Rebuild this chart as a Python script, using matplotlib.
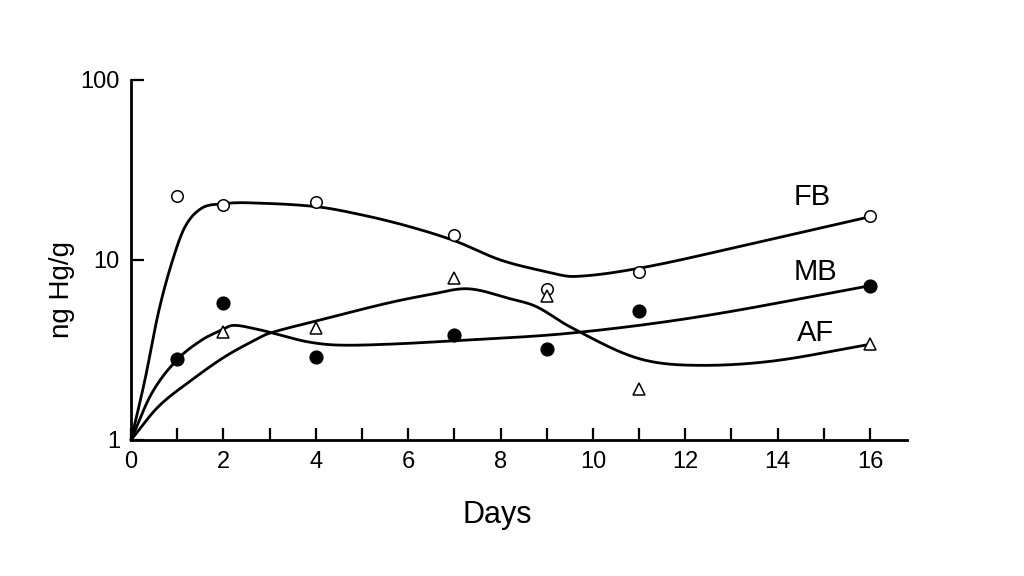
import numpy as np
import matplotlib
matplotlib.use("Agg")
import matplotlib.pyplot as plt
from matplotlib.ticker import FixedLocator, NullFormatter, FixedFormatter

plt.rcParams['font.family'] = ['Liberation Sans', 'DejaVu Sans']

# Measured points
days_FB = [1, 2, 4, 7, 9, 11, 16]
FB = [22.7, 20.2, 21.0, 13.8, 6.9, 8.6, 17.5]
days_MB = [1, 2, 4, 7, 9, 11, 16]
MB = [2.82, 5.77, 2.89, 3.83, 3.2, 5.2, 7.2]
days_AF = [2, 4, 7, 9, 11, 16]
AF = [4.0, 4.2, 7.9, 6.3, 1.92, 3.4]

# Hand-drawn fitted curves (knots)
FB_curve_x = [0, 0.3, 0.59, 0.88, 1.17, 1.53, 1.96, 2.5, 4, 5, 6, 7, 8, 9, 9.6, 11, 13, 16]
FB_curve_y = [1, 2.15, 5.06, 9.6, 15.3, 19.4, 20.5, 20.8, 19.8, 17.8, 15.4, 12.8, 10, 8.6, 8.1, 9.0, 11.6, 17.4]
MB_curve_x = [0, 0.45, 0.99, 1.53, 1.96, 2.2, 2.65, 3.08, 3.8, 4.45, 5.5, 7, 9.5, 12.3, 16]
MB_curve_y = [1, 1.82, 2.78, 3.59, 4.08, 4.33, 4.17, 3.92, 3.52, 3.37, 3.4, 3.56, 3.92, 4.84, 7.2]
AF_curve_x = [0, 0.59, 1.31, 2.03, 2.68, 3.0, 4.09, 5.54, 6.5, 7.3, 8.2, 8.78, 9.5, 10.87, 11.96, 13.76, 16]
AF_curve_y = [1, 1.53, 2.15, 2.9, 3.59, 3.92, 4.64, 5.75, 6.45, 6.92, 6.1, 5.5, 4.26, 2.9, 2.61, 2.72, 3.4]

x_ticks_labeled = [0, 2, 4, 6, 8, 10, 12, 14, 16]
y_ticks = [1, 10, 100]
y_tick_labels = ['1', '10', '100']


def hermite(x, y, xs):
    x = np.asarray(x, float)
    y = np.asarray(y, float)
    n = len(x)
    h = np.diff(x)
    m = np.zeros(n)
    m[1:-1] = (y[2:] - y[:-2]) / (x[2:] - x[:-2])
    m[0] = (y[1] - y[0]) / h[0]
    m[-1] = (y[-1] - y[-2]) / h[-1]
    idx = np.clip(np.searchsorted(x, xs) - 1, 0, n - 2)
    t = (xs - x[idx]) / h[idx]
    h00 = 2 * t**3 - 3 * t**2 + 1
    h10 = t**3 - 2 * t**2 + t
    h01 = -2 * t**3 + 3 * t**2
    h11 = t**3 - t**2
    return h00 * y[idx] + h10 * h[idx] * m[idx] + h01 * y[idx + 1] + h11 * h[idx] * m[idx + 1]


def smooth(cx, cy):
    xs = np.linspace(cx[0], cx[-1], 800)
    ys = 10 ** hermite(cx, np.log10(cy), xs)
    return xs, ys


fig = plt.figure(figsize=(10.24, 5.76), dpi=100)
ax = fig.add_axes([131 / 1024, 136 / 576, 776 / 1024, 360 / 576])
ax.set_yscale('log')
ax.set_xlim(0, 16.8)
ax.set_ylim(1, 100)

lw = 2.0
for cx, cy in [(FB_curve_x, FB_curve_y), (MB_curve_x, MB_curve_y), (AF_curve_x, AF_curve_y)]:
    xs, ys = smooth(cx, cy)
    ax.plot(xs, ys, color='black', lw=lw, solid_capstyle='round', zorder=2, clip_on=False)

ax.plot(days_FB, FB, 'o', ms=8.3, mfc='white', mec='black', mew=1.1, zorder=3, clip_on=False)
ax.plot(days_MB, MB, 'o', ms=9.2, mfc='black', mec='black', zorder=3, clip_on=False)
ax.plot(days_AF, AF, '^', ms=8.0, mfc='white', mec='black', mew=1.1, zorder=3, clip_on=False)

ax.text(14.74, 22.4, 'FB', fontsize=21, ha='center', va='center')
ax.text(14.81, 8.58, 'MB', fontsize=21, ha='center', va='center')
ax.text(14.81, 3.93, 'AF', fontsize=21, ha='center', va='center')

for s in ['top', 'right']:
    ax.spines[s].set_visible(False)
for s in ['left', 'bottom']:
    ax.spines[s].set_linewidth(2.0)

ax.xaxis.set_major_locator(FixedLocator(x_ticks_labeled))
ax.xaxis.set_minor_locator(FixedLocator([1, 3, 5, 7, 9, 11, 13, 15]))
ax.tick_params(axis='x', which='both', direction='in', length=9, width=1.6,
               labelsize=17, pad=8)
ax.yaxis.set_major_locator(FixedLocator(y_ticks))
ax.yaxis.set_major_formatter(FixedFormatter(y_tick_labels))
ax.yaxis.set_minor_locator(FixedLocator([]))
ax.yaxis.set_minor_formatter(NullFormatter())
ax.tick_params(axis='y', which='major', direction='in', length=9, width=1.6,
               labelsize=17, pad=8)

ax.set_xlabel('Days', fontsize=22)
ax.xaxis.set_label_coords(0.472, -0.167)
ax.set_ylabel('ng Hg/g', fontsize=20)
ax.yaxis.set_label_coords(-0.072, 0.417)

fig.savefig('out.png', dpi=100, facecolor='white')
